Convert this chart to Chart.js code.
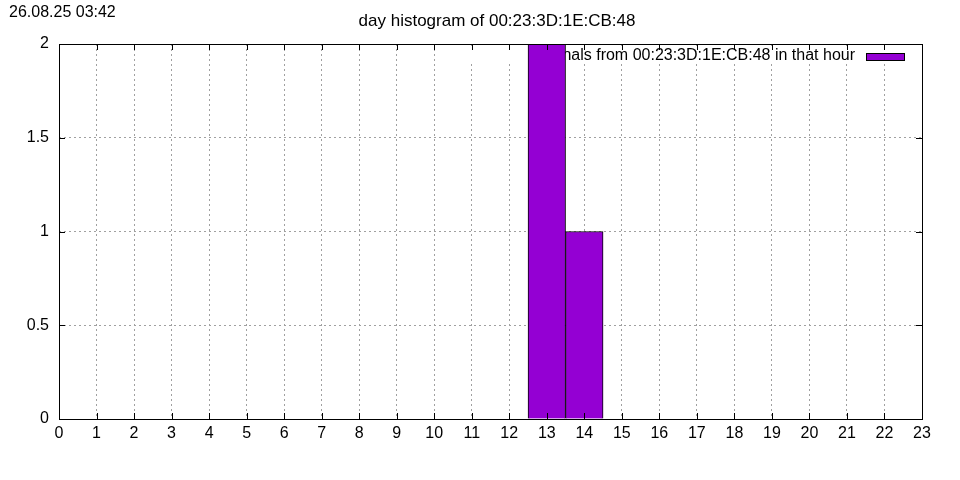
<!DOCTYPE html>
<html>
<head>
<meta charset="utf-8">
<script src="https://cdn.jsdelivr.net/npm/chart.js@4"></script>
<style>
  body { margin: 0; background: #fff; }
  #wrap { width: 960px; height: 480px; }
</style>
</head>
<body>
<div id="wrap"><canvas id="chart" width="960" height="480"></canvas></div>
<script>
const hours = [0, 1, 2, 3, 4, 5, 6, 7, 8, 9, 10, 11, 12, 13, 14, 15, 16, 17, 18, 19, 20, 21, 22, 23];
const counts = [0, 0, 0, 0, 0, 0, 0, 0, 0, 0, 0, 0, 0, 2, 1, 0, 0, 0, 0, 0, 0, 0, 0, 0];
const yTicks = [0, 0.5, 1, 1.5, 2];
const title = "day histogram of 00:23:3D:1E:CB:48";
const stamp = "26.08.25 03:42";
const seriesLabel = "signals from 00:23:3D:1E:CB:48 in that hour";
const barColor = "#9400d3";
const font = "Liberation Sans, Arial, sans-serif";

const ctx = document.getElementById("chart");

// gnuplot-ish decorations: title, stamp, legend box, frame and inward ticks
const gnuplotLook = {
  id: "gnuplotLook",
  beforeDatasetsDraw(chart) {
    const c = chart.ctx;
    c.save();
    c.fillStyle = "#fff";
    c.fillRect(466, 46, 448, 18);
    c.fillStyle = "#000";
    c.font = "16px " + font;
    c.textAlign = "right";
    c.textBaseline = "middle";
    c.fillText(seriesLabel, 855, 56);
    c.fillStyle = barColor;
    c.fillRect(866, 53, 39, 8);
    c.strokeStyle = "#000";
    c.lineWidth = 1;
    c.strokeRect(866.5, 53.5, 38, 7);
    c.restore();
  },
  afterDraw(chart) {
    const c = chart.ctx;
    const a = chart.chartArea;
    const xs = chart.scales.x, ys = chart.scales.y;
    c.save();
    c.strokeStyle = "#000";
    c.lineWidth = 1;
    c.strokeRect(Math.round(a.left) + 0.5, Math.round(a.top) + 0.5,
      Math.round(a.right - a.left), Math.round(a.bottom - a.top));
    c.beginPath();
    hours.forEach(h => {
      const px = Math.round(xs.getPixelForValue(h)) + 0.5;
      c.moveTo(px, a.bottom); c.lineTo(px, a.bottom - 6);
      c.moveTo(px, a.top); c.lineTo(px, a.top + 6);
    });
    yTicks.forEach(v => {
      const py = Math.round(ys.getPixelForValue(v)) + 0.5;
      c.moveTo(a.left, py); c.lineTo(a.left + 6, py);
      c.moveTo(a.right, py); c.lineTo(a.right - 6, py);
    });
    c.stroke();
    c.fillStyle = "#000";
    c.font = "17px " + font;
    c.textAlign = "center";
    c.textBaseline = "middle";
    c.fillText(title, 497, 21);
    c.font = "16px " + font;
    c.textAlign = "left";
    c.fillText(stamp, 9, 13);
    c.restore();
  }
};

new Chart(ctx, {
  type: "bar",
  data: {
    datasets: [
      {
        label: seriesLabel,
        data: hours.map((h, i) => ({ x: h, y: counts[i] })),
        backgroundColor: barColor,
        borderColor: "#000",
        borderWidth: 1,
        barPercentage: 1,
        categoryPercentage: 1,
      },
    ],
  },
  options: {
    responsive: false,
    animation: false,
    layout: { padding: { top: 44, right: 38, left: 0, bottom: 0 } },
    scales: {
      x: {
        type: "linear",
        min: 0,
        max: 23,
        offset: false,
        afterFit: s => { s.height = 61; },
        afterBuildTicks: s => { s.ticks = hours.map(v => ({ value: v })); },
        ticks: { color: "#000", font: { family: font, size: 16 }, padding: 5, maxRotation: 0, autoSkip: false },
        grid: { color: "#a0a0a0", drawTicks: false, tickLength: 0, offset: false },
        border: { display: false, dash: [2, 3] },
      },
      y: {
        min: 0,
        max: 2,
        afterFit: s => { s.width = 59; },
        afterBuildTicks: s => { s.ticks = yTicks.map(v => ({ value: v })); },
        ticks: { color: "#000", font: { family: font, size: 16 }, padding: 10, callback: v => String(v) },
        grid: { color: "#a0a0a0", drawTicks: false, tickLength: 0 },
        border: { display: false, dash: [2, 3] },
      },
    },
    plugins: {
      legend: { display: false },
      tooltip: { enabled: false },
    },
  },
  plugins: [gnuplotLook],
});
</script>
</body>
</html>
